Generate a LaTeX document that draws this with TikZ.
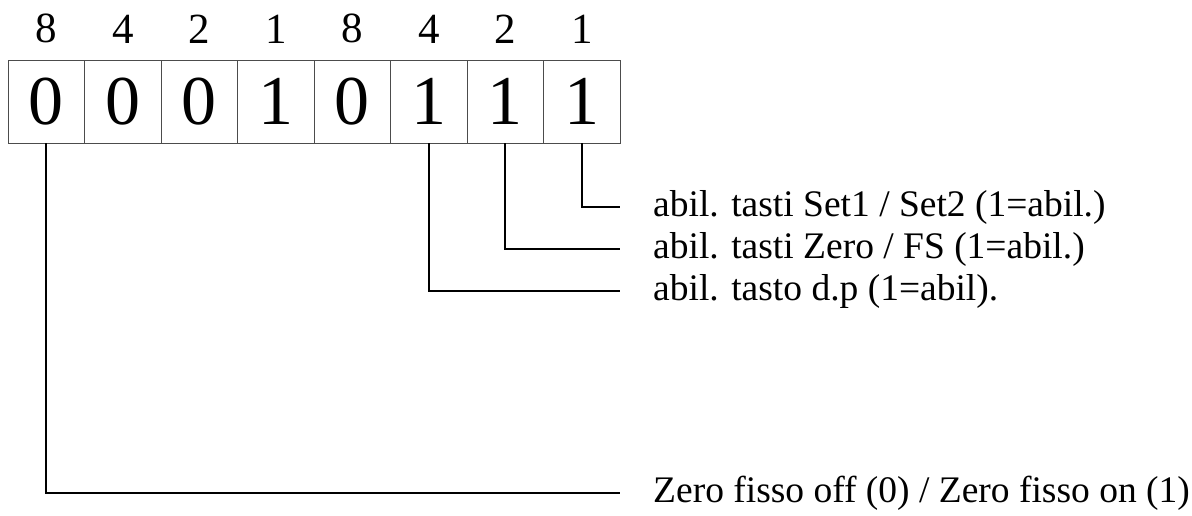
\documentclass[tikz,border=0pt]{standalone}
\usepackage{fontspec}
\setmainfont{Liberation Serif}
\usetikzlibrary{positioning}

\begin{document}
\begin{tikzpicture}[x=1pt,y=-1pt,
    bitcell/.style={draw=black!70,line width=0.8pt,minimum width=76.5pt,minimum height=83pt,inner sep=0pt,font=\fontsize{70}{72}\selectfont},
    weight/.style={inner sep=0pt,font=\fontsize{43}{45}\selectfont},
    desc/.style={anchor=west,inner sep=0pt,font=\fontsize{37.5}{40}\selectfont},
    wire/.style={line width=2pt,black}]
\useasboundingbox (0,0) rectangle (1192,515);
%% register bits and their weights
\foreach \w/\b [count=\i from 0] in {8/0,4/0,2/0,1/1,8/0,4/1,2/1,1/1}{
    \node[bitcell] (c\i) at (46.25+76.5*\i,101.5) {\b};
    \node[weight,above=16pt of c\i] (w\i) {\w};
}
\node[desc] (set) at (653,207) {abil. tasti Set1 / Set2 (1=abil.)};
\node[desc] (fs) at (653,249) {abil. tasti Zero / FS (1=abil.)};
\node[desc] (dp) at (653,291) {abil. tasto d.p (1=abil).};
\node[desc] (zf) at (653,493) {Zero fisso off (0) / Zero fisso on (1)};
%% leaders
\draw[wire] (c7.south) |- ([xshift=-33pt]set.west);
\draw[wire] (c6.south) |- ([xshift=-33pt]fs.west);
\draw[wire] (c5.south) |- ([xshift=-33pt]dp.west);
\draw[wire] (c0.south) |- ([xshift=-33pt]zf.west);
\end{tikzpicture}
\end{document}
